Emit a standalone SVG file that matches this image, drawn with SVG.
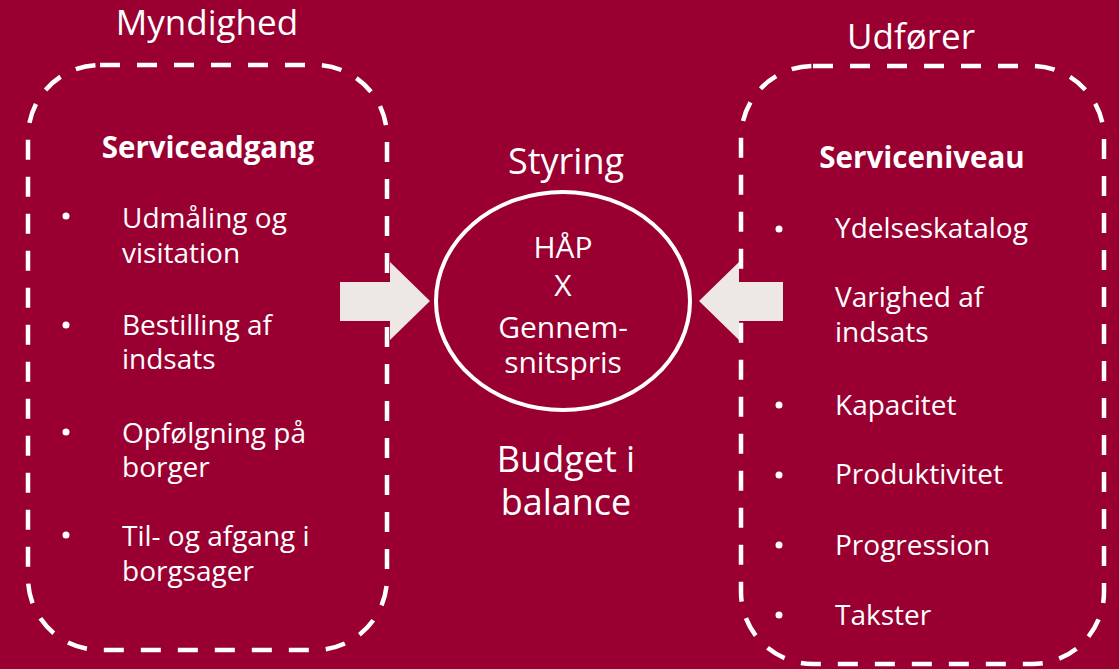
<svg xmlns="http://www.w3.org/2000/svg" width="1119" height="669" viewBox="0 0 1119 669">
  <style>
    text { font-family: "Open Sans", "Noto Sans", "DejaVu Sans", sans-serif; fill: #ffffff; }
    .title { font-size: 35px; }
    .head { font-size: 29.5px; font-weight: bold; }
    .item { font-size: 28px; }
    .mid { font-size: 36px; }
    .core { font-size: 30px; }
    .dash { fill: none; stroke: #ffffff; stroke-width: 4.5; stroke-dasharray: 20 17; }
    .bullet { fill: #ffffff; }
    .arrow { fill: #ede8e4; }
  </style>

  <rect x="0" y="0" width="1119" height="669" fill="#990031"/>

  <!-- Myndighed panel -->
  <g id="myndighed">
    <text class="title" x="207" y="35" text-anchor="middle">Myndighed</text>
    <rect class="dash" x="28" y="65" width="359" height="585" rx="72"/>
    <text class="head" x="208" y="158" text-anchor="middle">Serviceadgang</text>
    <circle class="bullet" cx="66" cy="216" r="3.5"/>
    <text class="item" x="122" y="228">Udmåling og</text>
    <text class="item" x="122" y="263">visitation</text>
    <circle class="bullet" cx="66" cy="325" r="3.5"/>
    <text class="item" x="122" y="335">Bestilling af</text>
    <text class="item" x="122" y="369">indsats</text>
    <circle class="bullet" cx="66" cy="432" r="3.5"/>
    <text class="item" x="122" y="443">Opfølgning på</text>
    <text class="item" x="122" y="477">borger</text>
    <circle class="bullet" cx="66" cy="535" r="3.5"/>
    <text class="item" x="122" y="546">Til- og afgang i</text>
    <text class="item" x="122" y="581">borgsager</text>
  </g>

  <!-- Udfører panel -->
  <g id="udfoerer">
    <text class="title" x="911" y="49" text-anchor="middle">Udfører</text>
    <rect class="dash" x="741" y="66" width="363" height="598" rx="72"/>
    <text class="head" x="922" y="168" text-anchor="middle">Serviceniveau</text>
    <circle class="bullet" cx="779" cy="229" r="3.5"/>
    <text class="item" x="835" y="238">Ydelseskatalog</text>
    <text class="item" x="835" y="307">Varighed af</text>
    <text class="item" x="835" y="342">indsats</text>
    <circle class="bullet" cx="779" cy="405" r="3.5"/>
    <text class="item" x="835" y="415">Kapacitet</text>
    <circle class="bullet" cx="779" cy="475" r="3.5"/>
    <text class="item" x="835" y="484">Produktivitet</text>
    <circle class="bullet" cx="779" cy="545" r="3.5"/>
    <text class="item" x="835" y="555">Progression</text>
    <circle class="bullet" cx="779" cy="615" r="3.5"/>
    <text class="item" x="835" y="625">Takster</text>
  </g>

  <!-- Styring centre -->
  <g id="styring">
    <text class="mid" x="566" y="174" text-anchor="middle">Styring</text>
    <ellipse cx="563" cy="301" rx="127" ry="109" fill="none" stroke="#ffffff" stroke-width="4"/>
    <text class="core" x="563" y="258" text-anchor="middle">HÅP</text>
    <text class="core" x="563" y="296" text-anchor="middle">X</text>
    <text class="core" x="563" y="338" text-anchor="middle">Gennem-</text>
    <text class="core" x="563" y="373" text-anchor="middle">snitspris</text>
    <text class="mid" x="566" y="472" text-anchor="middle">Budget i</text>
    <text class="mid" x="566" y="515" text-anchor="middle">balance</text>
  </g>

  <!-- Connectors: block arrows into the centre -->
  <g id="connectors">
    <polygon class="arrow" points="340,282 390,282 390,262 430,301 390,340 390,321 340,321"/>
    <polygon class="arrow" points="783,282 739,282 739,262 699,301 739,340 739,321 783,321"/>
  </g>
</svg>
